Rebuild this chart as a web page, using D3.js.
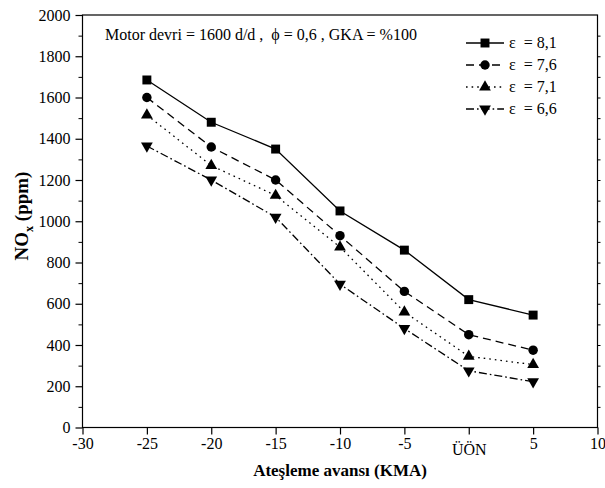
<!DOCTYPE html>
<html>
<head>
<meta charset="utf-8">
<script src="https://cdn.jsdelivr.net/npm/d3@7/dist/d3.min.js"></script>
</head>
<body style="margin:0">
<svg id="chart" width="605" height="488"></svg>
<script>
// Ignition advance (crank angle degrees); 0 is top dead centre
const advance = [-25, -20, -15, -10, -5, 0, 5];
const seriesNames = ["ε\u00A0 = 8,1", "ε\u00A0 = 7,6", "ε\u00A0 = 7,1", "ε\u00A0 = 6,6"];
const nox81 = [1685, 1480, 1350, 1050, 860, 620, 545];
const nox76 = [1600, 1360, 1200, 930, 660, 450, 375];
const nox71 = [1515, 1270, 1125, 875, 560, 345, 305];
const nox66 = [1365, 1200, 1020, 695, 480, 275, 222];
const xTicks = [-30, -25, -20, -15, -10, -5, 0, 5, 10];
const xTickLabels = ["-30", "-25", "-20", "-15", "-10", "-5", "ÜÖN", "5", "10"];
const yTicks = [0, 200, 400, 600, 800, 1000, 1200, 1400, 1600, 1800, 2000];

const series = [
  { name: seriesNames[0], values: nox81, dash: null, symbol: d3.symbolSquare, size: 80, rot: 0 },
  { name: seriesNames[1], values: nox76, dash: "8,5", symbol: d3.symbolCircle, size: 70, rot: 0 },
  { name: seriesNames[2], values: nox71, dash: "1.6,4", symbol: d3.symbolTriangle, size: 60, rot: 0 },
  { name: seriesNames[3], values: nox66, dash: "8,3,1.6,3", symbol: d3.symbolTriangle, size: 60, rot: 180 }
];

const svg = d3.select("#chart");
const plot = { left: 82.5, right: 597.5, top: 15, bottom: 427.5 };

const x = d3.scaleLinear().domain([-30, 10]).range([plot.left, plot.right]);
const y = d3.scaleLinear().domain([0, 2000]).range([plot.bottom, plot.top]);

// Text layers are drawn first, each with a serif face
// Operating conditions
svg.append("text")
  .attr("x", 105).attr("y", 40)
  .style("font-family", "'Times New Roman', serif")
  .style("font-size", "16px")
  .text("Motor devri = 1600 d/d ,\u00A0 ϕ = 0,6 , GKA = %100");

// Axis titles
svg.append("text")
  .attr("x", 340).attr("y", 476)
  .attr("text-anchor", "middle")
  .attr("font-family", "Tinos")
  .attr("font-size", 17).attr("font-weight", "bold")
  .text("Ateşleme avansı (KMA)");

const yTitle = svg.append("text")
  .attr("transform", "translate(28,216) rotate(-90)")
  .attr("text-anchor", "middle")
  .attr("font-family", "Tinos")
  .attr("font-size", 19).attr("font-weight", "bold");
yTitle.append("tspan").text("NO");
yTitle.append("tspan").attr("font-size", 12).attr("dy", 5).text("x");
yTitle.append("tspan").attr("dy", -5).text("\u00A0(ppm)");

// Frame
svg.append("rect")
  .attr("x", plot.left).attr("y", plot.top)
  .attr("width", plot.right - plot.left).attr("height", plot.bottom - plot.top)
  .attr("fill", "none").attr("stroke", "#000").attr("stroke-width", 1.2);

// Bottom axis
const xAxis = svg.append("g")
  .attr("transform", `translate(0,${plot.bottom})`)
  .call(d3.axisBottom(x).tickValues(xTicks).tickSize(7).tickPadding(3)
    .tickFormat((d, i) => xTickLabels[i]));
xAxis.attr("font-family", "Liberation Serif").attr("font-size", 16);
xAxis.select(".domain").remove();
xAxis.selectAll("line").attr("stroke-width", 1.2);
xAxis.selectAll("text")
  .attr("font-family", "Liberation Serif").attr("font-size", 16).attr("fill", "#000")
  .attr("dy", (d) => d === 0 ? "1.1em" : "0.71em");

// Left axis: minor ticks, then major ticks with labels
const yMinor = svg.append("g")
  .attr("transform", `translate(${plot.left},0)`)
  .call(d3.axisLeft(y).tickValues(d3.range(100, 2000, 200)).tickSize(4).tickFormat(""));
yMinor.select(".domain").remove();

const yAxis = svg.append("g")
  .attr("transform", `translate(${plot.left},0)`)
  .call(d3.axisLeft(y).tickValues(yTicks).tickSize(7).tickPadding(5).tickFormat(d3.format("d")));
yAxis.attr("font-family", "Liberation Serif").attr("font-size", 16);
yAxis.select(".domain").remove();
yAxis.selectAll("line").attr("stroke-width", 1.2);
yAxis.selectAll("text")
  .attr("font-family", "Liberation Serif").attr("font-size", 16).attr("fill", "#000");

// Right axis: short ticks every 100
const yRight = svg.append("g")
  .attr("transform", `translate(${plot.right},0)`)
  .call(d3.axisRight(y).tickValues(d3.range(100, 2000, 100)).tickSize(3).tickFormat(""));
yRight.select(".domain").remove();

// Series lines and markers
const line = d3.line().x((d) => x(d[0])).y((d) => y(d[1]));
series.forEach((s) => {
  const pts = advance.map((a, i) => [a, s.values[i]]);
  svg.append("path")
    .datum(pts)
    .attr("d", line)
    .attr("fill", "none")
    .attr("stroke", "#000")
    .attr("stroke-width", 1.3)
    .attr("stroke-dasharray", s.dash);
  svg.append("g").selectAll("path")
    .data(pts)
    .join("path")
    .attr("d", d3.symbol().type(s.symbol).size(s.size))
    .attr("transform", (d) => `translate(${x(d[0])},${y(d[1])}) rotate(${s.rot})`)
    .attr("fill", "#000");
});

// Legend
const legend = svg.append("g");
series.forEach((s, i) => {
  const ly = 43 + i * 22;
  legend.append("line")
    .attr("x1", 466).attr("x2", 504).attr("y1", ly).attr("y2", ly)
    .attr("stroke", "#000").attr("stroke-width", 1.3)
    .attr("stroke-dasharray", s.dash);
  legend.append("path")
    .attr("d", d3.symbol().type(s.symbol).size(s.size)())
    .attr("transform", `translate(485,${ly}) rotate(${s.rot})`)
    .attr("fill", "#000");
  legend.append("text")
    .attr("x", 509).attr("y", ly + 5)
    .attr("font-family", "serif")
    .attr("font-size", 16)
    .text(s.name);
});
</script>
</body>
</html>
